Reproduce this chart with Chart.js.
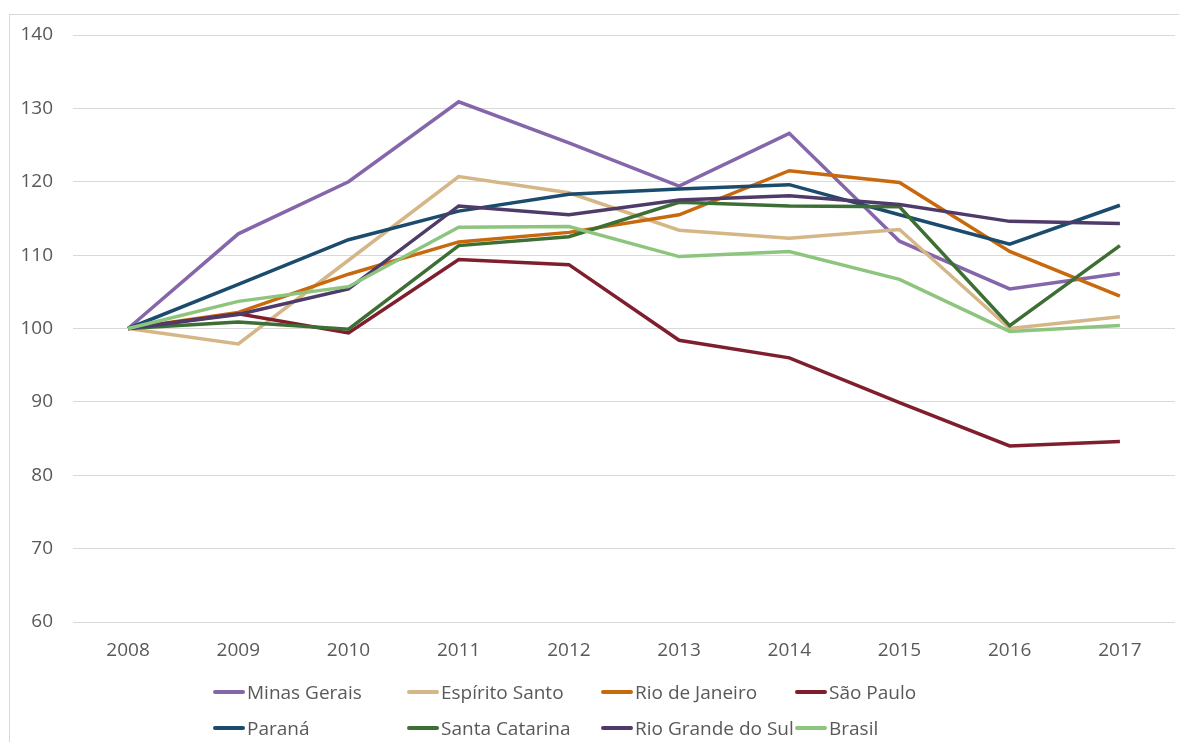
<!DOCTYPE html>
<html>
<head>
<meta charset="utf-8">
<script src="https://cdn.jsdelivr.net/npm/chart.js@4.4.1/dist/chart.umd.min.js"></script>
<style>
    html, body { margin: 0; padding: 0; background: #fff; }
    #wrap { position: relative; width: 1179px; height: 742px; overflow: hidden; background: #fff; }
    #frame { position: absolute; left: 9px; top: 14px; width: 1300px; height: 900px; border-left: 1px solid #d9d9d9; border-top: 1px solid #d9d9d9; }
    #chartBox { position: absolute; left: 0; top: 0; width: 1179px; height: 742px; }
    #legend { position: absolute; left: 213px; top: 674px; width: 860px; display: flex; flex-wrap: wrap;
              font-family: "Open Sans", sans-serif; font-size: 19px; color: #595959; }
    .item { display: flex; align-items: center; min-width: 194px; height: 36px; white-space: nowrap; }
    .swatch { width: 32px; height: 4px; margin-right: 2px; border-radius: 2px; }
</style>
</head>
<body>
<div id="wrap">
    <div id="frame"></div>
    <div id="chartBox"><canvas id="chart"></canvas></div>
    <div id="legend"></div>
</div>
<script>
/* --- DATA --- */

const years = ['2008', '2009', '2010', '2011', '2012', '2013', '2014', '2015', '2016', '2017'];
const yTicks = [60, 70, 80, 90, 100, 110, 120, 130, 140];

const minasGerais    = [100, 112.9, 120.0, 130.9, 125.3, 119.4, 126.6, 111.9, 105.4, 107.5];
const espiritoSanto  = [100,  97.9, 109.3, 120.7, 118.5, 113.4, 112.3, 113.5, 100.0, 101.6];
const rioDeJaneiro   = [100, 102.2, 107.4, 111.8, 113.1, 115.5, 121.5, 119.9, 110.5, 104.4];
const saoPaulo       = [100, 102.0,  99.4, 109.4, 108.7,  98.4,  96.0,  89.9,  84.0,  84.6];
const parana         = [100, 106.0, 112.1, 116.0, 118.3, 119.0, 119.6, 115.5, 111.5, 116.8];
const santaCatarina  = [100, 100.9,  99.9, 111.3, 112.5, 117.2, 116.7, 116.6, 100.4, 111.3];
const rioGrandeDoSul = [100, 101.9, 105.4, 116.7, 115.5, 117.5, 118.1, 116.9, 114.6, 114.3];
const brasil         = [100, 103.7, 105.7, 113.8, 113.9, 109.8, 110.5, 106.7,  99.6, 100.4];

const seriesNames = ['Minas Gerais', 'Espírito Santo', 'Rio de Janeiro', 'São Paulo',
                     'Paraná', 'Santa Catarina', 'Rio Grande do Sul', 'Brasil'];
const seriesData = [minasGerais, espiritoSanto, rioDeJaneiro, saoPaulo,
                    parana, santaCatarina, rioGrandeDoSul, brasil];
const seriesColors = ['#8566aa', '#d5b686', '#c9690e', '#7f1e2d',
                      '#1b4c6d', '#3d6f35', '#4f3b69', '#8dc57f'];

/* --- CHART --- */

const FONT = { family: '"Open Sans", sans-serif', size: 19 };

const datasets = seriesNames.map((name, i) => ({
    label: name,
    data: seriesData[i],
    borderColor: seriesColors[i],
    backgroundColor: seriesColors[i],
    borderWidth: 3.5,
    pointRadius: 0,
    tension: 0,
    fill: false,
    order: seriesNames.length - i // later series drawn on top, like Excel
}));

new Chart(document.getElementById('chart'), {
    type: 'line',
    data: { labels: years, datasets: datasets },
    options: {
        responsive: true,
        maintainAspectRatio: false,
        animation: false,
        layout: { padding: { top: 35, right: 4, bottom: 0, left: 0 } },
        plugins: {
            legend: { display: false },
            tooltip: { enabled: false }
        },
        scales: {
            x: {
                offset: true,
                grid: { display: false, drawTicks: false },
                border: { display: false },
                ticks: { color: '#595959', font: FONT, padding: 17, maxRotation: 0 },
                afterFit(scale) { scale.height = 120; }
            },
            y: {
                min: 60,
                max: 140,
                afterBuildTicks(scale) { scale.ticks = yTicks.map(v => ({ value: v })); },
                grid: { color: '#d9d9d9', lineWidth: 1, drawTicks: false },
                border: { display: false },
                ticks: { color: '#595959', font: FONT, padding: 20 },
                afterFit(scale) { scale.width = 73; }
            }
        }
    }
});

/* --- LEGEND (fixed columns, like the original) --- */

const legendEl = document.getElementById('legend');
seriesNames.forEach((name, i) => {
    const item = document.createElement('div');
    item.className = 'item';
    const sw = document.createElement('span');
    sw.className = 'swatch';
    sw.style.background = seriesColors[i];
    const txt = document.createElement('span');
    txt.textContent = name;
    item.appendChild(sw);
    item.appendChild(txt);
    legendEl.appendChild(item);
});
</script>
</body>
</html>
